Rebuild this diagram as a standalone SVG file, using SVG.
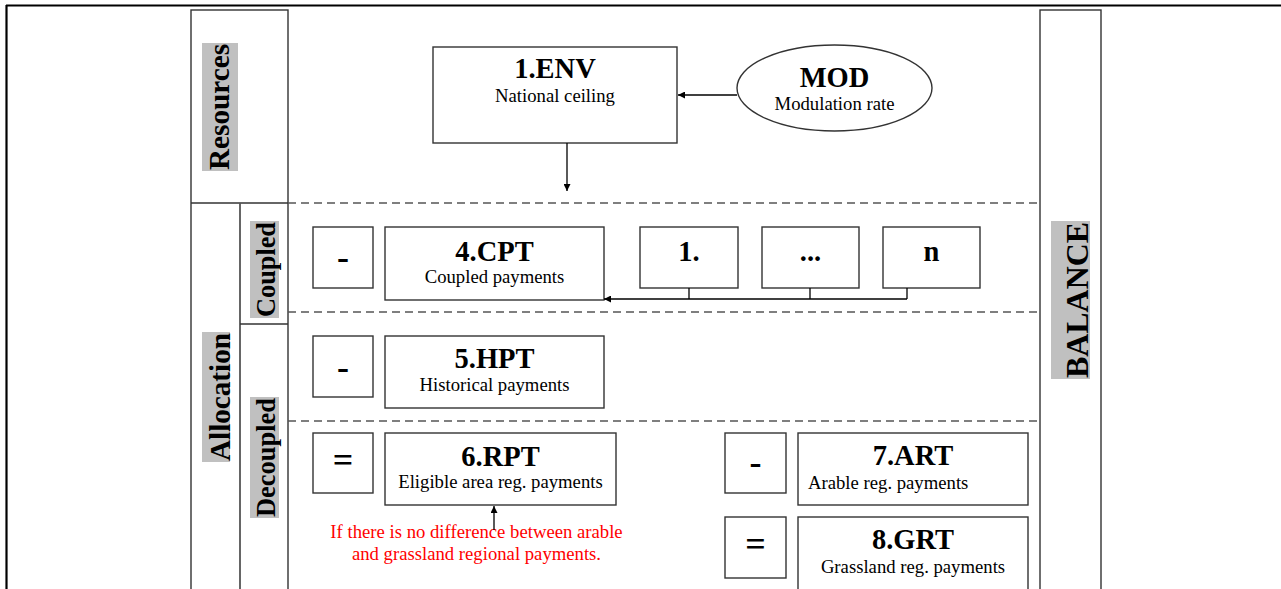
<svg xmlns="http://www.w3.org/2000/svg" width="1281" height="589" viewBox="0 0 1281 589">
<style>
text{font-family:"Liberation Serif","Times New Roman",serif;fill:#000}
.box{fill:#fff;stroke:#333;stroke-width:1.4}
.col{fill:none;stroke:#333;stroke-width:1.4}
.dash{stroke:#555;stroke-width:1.3;stroke-dasharray:8,5;fill:none}
.ttl{font-weight:bold;font-size:28.5px;text-anchor:middle}
.sub{font-size:18.7px;text-anchor:middle}
.subl{font-size:18.7px;text-anchor:start}
.op{font-weight:bold;font-size:36px;text-anchor:middle}
.lbl{font-weight:bold;text-anchor:middle}
.hl{fill:#c0c0c0}
.conn{stroke:#000;stroke-width:1.3;fill:none}
.red{fill:#ff0000;font-size:18.7px;text-anchor:middle}
</style>
<defs>
<marker id="arr" viewBox="0 0 10 10" refX="10" refY="5" markerWidth="7" markerHeight="7" orient="auto" markerUnits="userSpaceOnUse">
<path d="M0,0 L10,5 L0,10 z" fill="#000"/>
</marker>
</defs>
<rect width="1281" height="589" fill="#fff"/>
<g id="frame">
<line x1="6" y1="5.5" x2="1281" y2="5.5" stroke="#000" stroke-width="2.2"/>
<line x1="6.5" y1="5" x2="6.5" y2="589" stroke="#000" stroke-width="2.2"/>
</g>
<g id="columns">
<rect class="col" x="191" y="10" width="97" height="600"/>
<line class="col" x1="191" y1="203" x2="288" y2="203"/>
<line x1="240" y1="203" x2="240" y2="589" stroke="#555" stroke-width="1.8"/>
<line class="col" x1="240" y1="324" x2="288" y2="324"/>
<rect class="col" x="1040" y="10" width="61" height="600"/>
</g>
<g id="sections">
<line class="dash" x1="288" y1="203" x2="1040" y2="203"/>
<line class="dash" x1="288" y1="312" x2="1040" y2="312"/>
<line class="dash" x1="288" y1="421" x2="1040" y2="421"/>
</g>
<g id="label-resources">
<rect class="hl" x="202" y="43" width="36" height="128"/>
<text class="lbl" font-size="29" transform="translate(229,107) rotate(-90)" textLength="126" lengthAdjust="spacingAndGlyphs">Resources</text>
</g>
<g id="label-allocation">
<rect class="hl" x="202" y="332" width="28" height="130"/>
<text class="lbl" font-size="29" transform="translate(230,397) rotate(-90)" textLength="128" lengthAdjust="spacingAndGlyphs">Allocation</text>
</g>
<g id="label-coupled">
<rect class="hl" x="250" y="221" width="29" height="97"/>
<text class="lbl" font-size="28" transform="translate(275,269.5) rotate(-90)" textLength="95" lengthAdjust="spacingAndGlyphs">Coupled</text>
</g>
<g id="label-decoupled">
<rect class="hl" x="250" y="397" width="29" height="121"/>
<text class="lbl" font-size="28" transform="translate(275,457.5) rotate(-90)" textLength="119" lengthAdjust="spacingAndGlyphs">Decoupled</text>
</g>
<g id="label-balance">
<rect class="hl" x="1051" y="221" width="39" height="158"/>
<text class="lbl" font-size="32" transform="translate(1088,300) rotate(-90)" textLength="156" lengthAdjust="spacingAndGlyphs">BALANCE</text>
</g>
<g id="env">
<rect class="box" x="433" y="47" width="244" height="96"/>
<text class="ttl" x="555" y="78">1.ENV</text>
<text class="sub" x="555" y="102">National ceiling</text>
</g>
<g id="mod">
<ellipse class="box" cx="834.5" cy="88" rx="97.5" ry="43"/>
<text class="ttl" x="834.5" y="87" font-size="26">MOD</text>
<text class="sub" x="834.5" y="110">Modulation rate</text>
</g>
<g id="op-cpt">
<rect class="box" x="313" y="227" width="60" height="61"/>
<text class="op" x="343" y="269">-</text>
</g>
<g id="cpt">
<rect class="box" x="385" y="227" width="219" height="73"/>
<text class="ttl" x="494.5" y="261">4.CPT</text>
<text class="sub" x="494.5" y="283">Coupled payments</text>
</g>
<g id="c1">
<rect class="box" x="640" y="227" width="98" height="61"/>
<text class="ttl" x="689" y="261">1.</text>
</g>
<g id="cdots">
<rect class="box" x="762" y="227" width="97" height="61"/>
<text class="ttl" x="810.5" y="261">...</text>
</g>
<g id="cn">
<rect class="box" x="883" y="227" width="97" height="61"/>
<text class="ttl" x="931.5" y="261">n</text>
</g>
<g id="op-hpt">
<rect class="box" x="313" y="336" width="60" height="61"/>
<text class="op" x="343" y="379">-</text>
</g>
<g id="hpt">
<rect class="box" x="385" y="336" width="219" height="72"/>
<text class="ttl" x="494.5" y="368">5.HPT</text>
<text class="sub" x="494.5" y="391">Historical payments</text>
</g>
<g id="op-rpt">
<rect class="box" x="313" y="433" width="60" height="60"/>
<text class="op" x="343" y="472">=</text>
</g>
<g id="rpt">
<rect class="box" x="385" y="433" width="231" height="72"/>
<text class="ttl" x="500.5" y="466">6.RPT</text>
<text class="sub" x="500.5" y="488">Eligible area reg. payments</text>
</g>
<g id="note">
<text class="red" x="476.5" y="538">If there is no difference between arable</text>
<text class="red" x="476.5" y="560">and grassland regional payments.</text>
</g>
<g id="op-art">
<rect class="box" x="725" y="433" width="61" height="60"/>
<text class="op" x="755.5" y="474">-</text>
</g>
<g id="art">
<rect class="box" x="798" y="433" width="230" height="72"/>
<text class="ttl" x="913" y="465">7.ART</text>
<text class="subl" x="808" y="489">Arable reg. payments</text>
</g>
<g id="op-grt">
<rect class="box" x="725" y="517" width="61" height="61"/>
<text class="op" x="755.5" y="556">=</text>
</g>
<g id="grt">
<rect class="box" x="798" y="517" width="230" height="90"/>
<text class="ttl" x="913" y="549">8.GRT</text>
<text class="sub" x="913" y="573">Grassland reg. payments</text>
</g>
<g id="connectors">
<line class="conn" x1="737" y1="95" x2="678" y2="95" marker-end="url(#arr)"/>
<line class="conn" x1="567" y1="143" x2="567" y2="191" marker-end="url(#arr)"/>
<line class="conn" x1="689" y1="288" x2="689" y2="299"/>
<line class="conn" x1="810" y1="288" x2="810" y2="299"/>
<line class="conn" x1="907" y1="288" x2="907" y2="299"/>
<line class="conn" x1="907" y1="299" x2="604" y2="299" marker-end="url(#arr)"/>
<line class="conn" x1="494" y1="530" x2="494" y2="506" marker-end="url(#arr)"/>
</g>
</svg>
